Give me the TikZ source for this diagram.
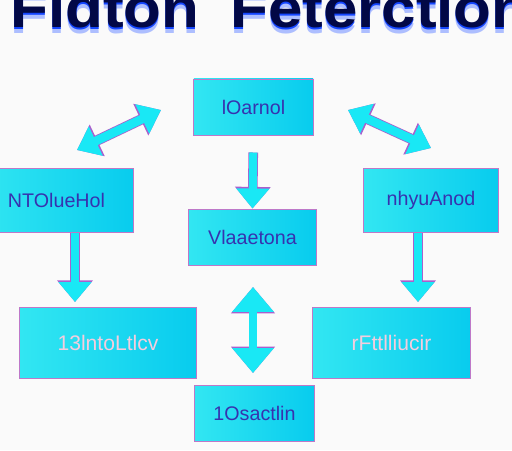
\documentclass[tikz,border=0pt]{standalone}
\usepackage{fontspec}
\setmainfont{Liberation Sans}
\usetikzlibrary{arrows.meta,positioning}

\definecolor{paper}{RGB}{250,250,250}
\definecolor{boxline}{RGB}{190,120,200}
\definecolor{cyanL}{RGB}{50,230,242}
\definecolor{cyanR}{RGB}{8,204,238}
\definecolor{arrowfill}{RGB}{25,232,245}
\definecolor{arrowline}{RGB}{170,95,205}
\definecolor{boxtext}{RGB}{55,50,175}
\definecolor{ghost}{RGB}{245,205,222}
\definecolor{titlenavy}{RGB}{2,8,70}
\definecolor{titleglow}{RGB}{20,70,255}

\begin{document}
\begin{tikzpicture}[x=0.025cm,y=-0.025cm,
  box/.style={draw=boxline,line width=0.7pt,left color=cyanL,right color=cyanR,
    text=boxtext,font=\fontsize{14pt}{16pt}\selectfont},
  ghosttext/.style={text=ghost,font=\fontsize{15pt}{17pt}\selectfont},
  heading/.style={anchor=base west,xscale=1.1,font=\fontsize{40pt}{40pt}\selectfont\bfseries},
  flow/.style={line width=0.2cm,draw=arrowfill,-{Triangle[width=0.8cm,length=0.5cm]},
    preaction={draw=arrowline,line width=0.24cm,-{Triangle[width=0.86cm,length=0.54cm]}}},
  twoway/.style={line width=0.22cm,draw=arrowfill,
    {Triangle[width=0.78cm,length=0.52cm]}-{Triangle[width=0.78cm,length=0.52cm]},
    preaction={draw=arrowline,line width=0.26cm,
    {Triangle[width=0.84cm,length=0.56cm]}-{Triangle[width=0.84cm,length=0.56cm]}}},
  updown/.style={line width=0.18cm,draw=arrowfill,
    {Triangle[width=1cm,length=0.62cm]}-{Triangle[width=1cm,length=0.62cm]},
    preaction={draw=arrowline,line width=0.22cm,
    {Triangle[width=1.06cm,length=0.66cm]}-{Triangle[width=1.06cm,length=0.66cm]}}}]

\useasboundingbox[fill=paper] (0,0) rectangle (512,450);

% title with its blue glow
\node[heading,text=titleglow!35] (glowA2) at (5,33) {Fidton};
\node[heading,text=titleglow!35] (glowB2) at (225,33) {Feterction};
\node[heading,text=titleglow] (glowA) at (5,29.5) {Fidton};
\node[heading,text=titleglow] (glowB) at (225,29.5) {Feterction};
\node[heading,text=titlenavy] (titleA) at (5,27) {Fidton};
\node[heading,text=titlenavy] (titleB) at (225,27) {Feterction};

% boxes
\node[box,minimum width=2.975cm,minimum height=1.4cm] (control) at (253.5,107) {lOarnol};
\node[box,minimum width=3.825cm,minimum height=1.6cm] (ntol) at (56.5,200) {NTOlueHol};
\node[box,minimum width=3.175cm,minimum height=1.4cm] (vlaa) at (252.5,237) {Vlaaetona};
\node[box,minimum width=3.35cm,minimum height=1.6cm] (hyua) at (431,200) {nhyuAnod};
\node[box,minimum width=4.4cm,minimum height=1.775cm] (intol) at (108,342.5) {};
\node[ghosttext] (intoltext) at (intol) {13lntoLtlcv};
\node[box,minimum width=3.925cm,minimum height=1.775cm] (rftt) at (391.5,342.5) {};
\node[ghosttext] (rftttext) at (rftt) {rFttlliucir};
\node[box,minimum width=2.975cm,minimum height=1.4cm] (osac) at (254.5,413) {1Osactlin};

% arrow ends
\coordinate (la) at (77,150);
\coordinate (lb) at (161,110);
\coordinate (ra) at (348,110);
\coordinate (rb) at (431,148);
\coordinate (ld) at (75,302);
\coordinate (rd) at (418,302);
\coordinate (ma) at (253,287);
\coordinate (mb) at (253,373);

\draw[twoway] (la) -- (lb);
\draw[twoway] (ra) -- (rb);
\draw[flow,shorten <=0.425cm] (control.south) -- (vlaa.north);
\draw[flow] (ntol.south -| ld) -- (ld);
\draw[flow] (hyua.south -| rd) -- (rd);
\draw[updown] (ma) -- (mb);
\end{tikzpicture}
\end{document}
